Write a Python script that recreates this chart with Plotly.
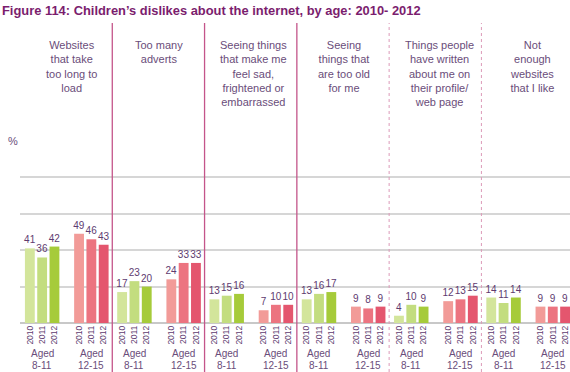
import plotly.graph_objects as go

categories = [
    "Websites<br>that take<br>too long to<br>load",
    "Too many<br>adverts",
    "Seeing things<br>that make me<br>feel sad,<br>frightened or<br>embarrassed",
    "Seeing<br>things that<br>are too old<br>for me",
    "Things people<br>have written<br>about me on<br>their profile/<br>web page",
    "Not<br>enough<br>websites<br>that I like",
]
years = ["2010", "2011", "2012"]
age_groups = [("Aged", "8-11"), ("Aged", "12-15")]

aged_8_11 = {
    "2010": [41, 17, 13, 13, 4, 14],
    "2011": [36, 23, 15, 16, 10, 11],
    "2012": [42, 20, 16, 17, 9, 14],
}
aged_12_15 = {
    "2010": [49, 24, 7, 9, 12, 9],
    "2011": [46, 33, 10, 8, 13, 9],
    "2012": [43, 33, 10, 9, 15, 9],
}

# layout (positions / styles)
CAT_W = 7.5
slot_8_11 = [0.8, 1.8, 2.8]
slot_12_15 = [4.8, 5.8, 6.8]
head_offset = [4.2, 3.8, 4.0, 3.8, 4.1, 4.1]
green = ["#d3e59b", "#c3dd7f", "#a6cb3a"]
pink = ["#f29b98", "#ec7480", "#e4566e"]
label_color = "#5e3b70"
head_color = "#6a4d7a"
FONT = "Liberation Sans, Arial"

fig = go.Figure()
tickvals, ticktext = [], []
for series, slots, cols in [(aged_8_11, slot_8_11, green), (aged_12_15, slot_12_15, pink)]:
    for yi, yr in enumerate(years):
        xs = [i * CAT_W + slots[yi] for i in range(len(categories))]
        vals = series[yr]
        fig.add_trace(go.Bar(
            x=xs, y=vals, width=0.8,
            marker=dict(color=cols[yi], line=dict(width=0)),
            text=[str(v) for v in vals], textposition="outside",
            constraintext="none",
            textfont=dict(size=10, color=label_color, family=FONT),
            cliponaxis=False, showlegend=False,
        ))
        tickvals += xs
        ticktext += [yr] * len(xs)

annotations = []
shapes = []
for i, c in enumerate(categories):
    annotations.append(dict(
        x=i * CAT_W + head_offset[i], xref="x", y=(323 - 37) / 182, yref="paper",
        text=c, showarrow=False, yanchor="top", xanchor="center", align="center",
        font=dict(size=11, color=head_color, family=FONT),
    ))
    for slots, (l1, l2) in zip([slot_8_11, slot_12_15], age_groups):
        annotations.append(dict(
            x=i * CAT_W + slots[1], xref="x", y=(323 - 353.5) / 182, yref="paper",
            text=l1, showarrow=False, yanchor="middle", xanchor="center",
            font=dict(size=10, color=head_color, family=FONT),
        ))
        annotations.append(dict(
            x=i * CAT_W + slots[1], xref="x", y=(323 - 365) / 182, yref="paper",
            text=l2, showarrow=False, yanchor="middle", xanchor="center",
            font=dict(size=10, color=head_color, family=FONT),
        ))
    if i > 0:
        solid = i <= 3
        shapes.append(dict(
            type="line", xref="x", yref="paper",
            x0=i * CAT_W, x1=i * CAT_W,
            y0=(323 - 372) / 182, y1=(323 - 23) / 182,
            line=dict(color="#c4558a" if solid else "#dc9ab8", width=1.3 if solid else 1,
                      dash="solid" if solid else "dot"),
            layer="above",
        ))

annotations.append(dict(
    x=(13 - 20) / 550, xref="paper", y=1.0, yref="paper", text="%",
    showarrow=False, xanchor="center", yanchor="middle",
    font=dict(size=11, color=head_color, family=FONT),
))

fig.update_layout(
    width=570, height=372,
    margin=dict(l=20, r=0, t=141, b=49),
    paper_bgcolor="white", plot_bgcolor="white",
    barmode="overlay",
    title=dict(
        text="<b>Figure 114: Children’s dislikes about the internet, by age: 2010- 2012</b>",
        x=2 / 570, xanchor="left", xref="container",
        y=1 - 10 / 372, yanchor="middle", yref="container",
        font=dict(size=12.9, color="#7b1d6e", family=FONT),
    ),
    xaxis=dict(
        range=[0, 44.7], tickmode="array", tickvals=tickvals, ticktext=ticktext,
        tickangle=-90, tickfont=dict(size=8.5, color=label_color, family=FONT),
        showgrid=False, zeroline=False, showline=False, ticks="", fixedrange=True,
    ),
    yaxis=dict(
        range=[0, 100], tickvals=[0, 20, 40, 60, 80, 100], showticklabels=False,
        showgrid=True, gridcolor="#d6d6d6", gridwidth=1.5,
        zeroline=True, zerolinecolor="#c8c8c8", zerolinewidth=1.5,
        showline=False, ticks="", fixedrange=True,
    ),
    annotations=annotations,
    shapes=shapes,
)

fig.write_html(
    "out.html",
    config={"displayModeBar": False},
    post_script="document.body.style.margin='0';document.body.style.overflow='hidden';",
)
